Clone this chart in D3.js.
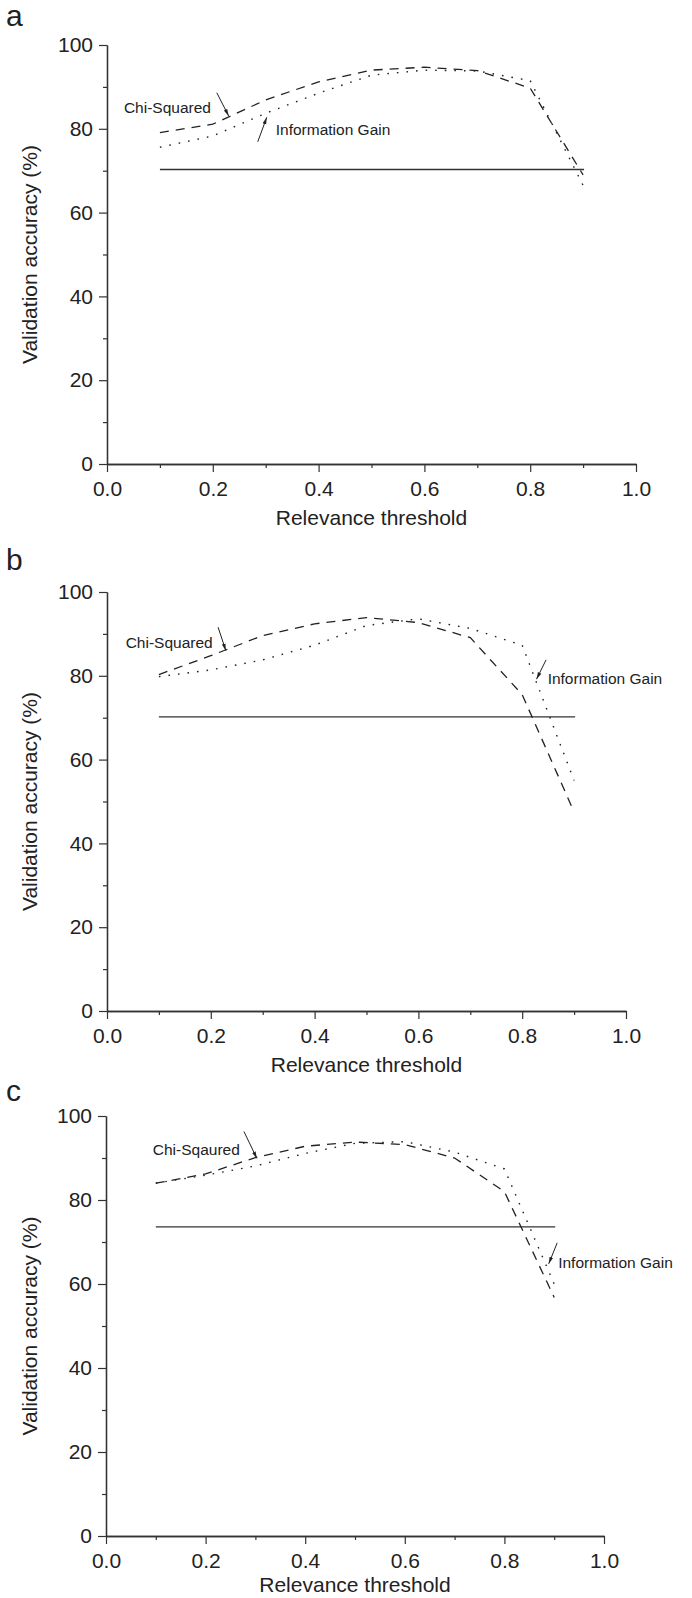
<!DOCTYPE html>
<html>
<head>
<meta charset="utf-8">
<script src="https://d3js.org/d3.v7.min.js"></script>
<style>
  body { margin: 0; background: #fff; }
  text { font-family: "Liberation Sans", Arial, sans-serif; fill: #222; }
</style>
</head>
<body>
<div id="chart"></div>
<script>
// relevance thresholds used for every run
const thresholds = [0.1, 0.2, 0.3, 0.4, 0.5, 0.6, 0.7, 0.8, 0.9];

// panel a
const chiA = [79.1, 81.1, 86.9, 91.2, 94.0, 94.7, 93.9, 89.7, 69.0];
const igA  = [75.6, 78.3, 83.7, 88.5, 92.8, 94.0, 93.8, 91.5, 66.5];
const baseA = 70.3;
// panel b
const chiB = [80.3, 84.8, 89.6, 92.4, 93.9, 92.7, 89.1, 75.5, 47.5];
const igB  = [79.8, 81.4, 83.8, 87.3, 92.0, 93.6, 91.3, 87.3, 55.0];
const baseB = 70.2;
// panel c
const chiC = [84.0, 86.2, 90.1, 92.8, 93.8, 93.2, 90.0, 82.0, 56.8];
const igC  = [84.0, 85.9, 88.1, 91.1, 93.5, 93.9, 91.4, 87.4, 60.0];
const baseC = 73.6;

// tick values
const xMajor = [0, 0.2, 0.4, 0.6, 0.8, 1.0];
const xMinor = [0.1, 0.3, 0.5, 0.7, 0.9];
const yMajor = [0, 20, 40, 60, 80, 100];
const yMinor = [10, 30, 50, 70, 90];

// annotations, in data units: label anchor + arrow from/to
const notesA = [
  {text: "Chi-Squared", tx: 0.032, ty: 83.8, from: [0.2076, 88.6], to: [0.230, 83.05]},
  {text: "Information Gain", tx: 0.319, ty: 78.5, from: [0.285, 76.9], to: [0.302, 82.75]}
];
const notesB = [
  {text: "Chi-Squared", tx: 0.036, ty: 86.6, from: [0.214, 91.6], to: [0.229, 86.0]},
  {text: "Information Gain", tx: 0.849, ty: 78.0, from: [0.846, 83.8], to: [0.8276, 79.2]}
];
const notesC = [
  {text: "Chi-Sqaured", tx: 0.094, ty: 90.6, from: [0.277, 96.3], to: [0.303, 89.9]},
  {text: "Information Gain", tx: 0.908, ty: 63.7, from: [0.906, 69.8], to: [0.889, 64.8]}
];

const W = 692, H = 1598;
const FONT = '"Liberation Sans", Arial, sans-serif';

const svg = d3.select("#chart").append("svg")
  .attr("width", W).attr("height", H);

svg.append("defs").append("marker")
  .attr("id", "arrow")
  .attr("markerUnits", "userSpaceOnUse")
  .attr("markerWidth", 8).attr("markerHeight", 5)
  .attr("refX", 7).attr("refY", 2.5)
  .attr("orient", "auto")
  .append("path")
  .attr("d", "M0,0.6 L7,2.5 L0,4.4 Z")
  .attr("fill", "#222");

const panels = [
  {letter: "a", chi: chiA, ig: igA, base: baseA, notes: notesA,
   left: 107, right: 636, top: 45, bottom: 464, letterY: 26},
  {letter: "b", chi: chiB, ig: igB, base: baseB, notes: notesB,
   left: 107, right: 626, top: 592, bottom: 1011, letterY: 570},
  {letter: "c", chi: chiC, ig: igC, base: baseC, notes: notesC,
   left: 106, right: 604, top: 1116, bottom: 1536, letterY: 1101}
];

function styleAxis(sel) {
  sel.attr("font-size", 21).attr("font-family", FONT);
  sel.select(".domain").attr("stroke", "#333").attr("stroke-width", 1.3);
  sel.selectAll(".tick line").attr("stroke", "#333").attr("stroke-width", 1.2);
  sel.selectAll(".tick text").attr("fill", "#222");
}

function drawPanel(p) {
  const x = d3.scaleLinear().domain([0, 1]).range([p.left, p.right]);
  const y = d3.scaleLinear().domain([0, 100]).range([p.bottom, p.top]);
  const g = svg.append("g");

  // x axis: minor then major
  g.append("g").attr("transform", `translate(0,${p.bottom})`)
    .call(d3.axisBottom(x).tickValues(xMinor).tickSize(4).tickSizeOuter(0).tickFormat(""))
    .call(styleAxis);
  g.append("g").attr("transform", `translate(0,${p.bottom})`)
    .call(d3.axisBottom(x).tickValues(xMajor).tickSize(8).tickSizeOuter(0)
      .tickPadding(9).tickFormat(d3.format(".1f")))
    .call(styleAxis);

  // y axis
  g.append("g").attr("transform", `translate(${p.left},0)`)
    .call(d3.axisLeft(y).tickValues(yMinor).tickSize(4).tickSizeOuter(0).tickFormat(""))
    .call(styleAxis);
  g.append("g").attr("transform", `translate(${p.left},0)`)
    .call(d3.axisLeft(y).tickValues(yMajor).tickSize(8).tickSizeOuter(0).tickPadding(6))
    .call(styleAxis);

  // baseline accuracy
  g.append("line")
    .attr("x1", x(thresholds[0])).attr("x2", x(thresholds[thresholds.length - 1]) + 1)
    .attr("y1", y(p.base)).attr("y2", y(p.base))
    .attr("stroke", "#333").attr("stroke-width", 1.4);

  const line = d3.line()
    .x((d, i) => x(thresholds[i]))
    .y(d => y(d));

  g.append("path").datum(p.ig)
    .attr("d", line)
    .attr("fill", "none").attr("stroke", "#222").attr("stroke-width", 1.4)
    .attr("stroke-dasharray", "1.6,8");

  g.append("path").datum(p.chi)
    .attr("d", line)
    .attr("fill", "none").attr("stroke", "#222").attr("stroke-width", 1.3)
    .attr("stroke-dasharray", "9,7");

  // annotations
  p.notes.forEach(n => {
    g.append("text")
      .attr("x", x(n.tx)).attr("y", y(n.ty))
      .attr("font-size", 15.5)
      .text(n.text);
    g.append("line")
      .attr("x1", x(n.from[0])).attr("y1", y(n.from[1]))
      .attr("x2", x(n.to[0])).attr("y2", y(n.to[1]))
      .attr("stroke", "#222").attr("stroke-width", 1)
      .attr("marker-end", "url(#arrow)");
  });

  // axis titles (keep the last one inside the page)
  g.append("text")
    .attr("x", (p.left + p.right) / 2).attr("y", Math.min(p.bottom + 61, H - 6))
    .attr("text-anchor", "middle").attr("font-size", 21)
    .text("Relevance threshold");
  g.append("text")
    .attr("transform", `translate(37,${(p.top + p.bottom) / 2}) rotate(-90)`)
    .attr("text-anchor", "middle").attr("font-size", 21)
    .text("Validation accuracy (%)");

  // panel letter
  g.append("text")
    .attr("x", 6).attr("y", p.letterY)
    .attr("font-size", 30)
    .text(p.letter);
}

panels.forEach(drawPanel);
</script>
</body>
</html>
